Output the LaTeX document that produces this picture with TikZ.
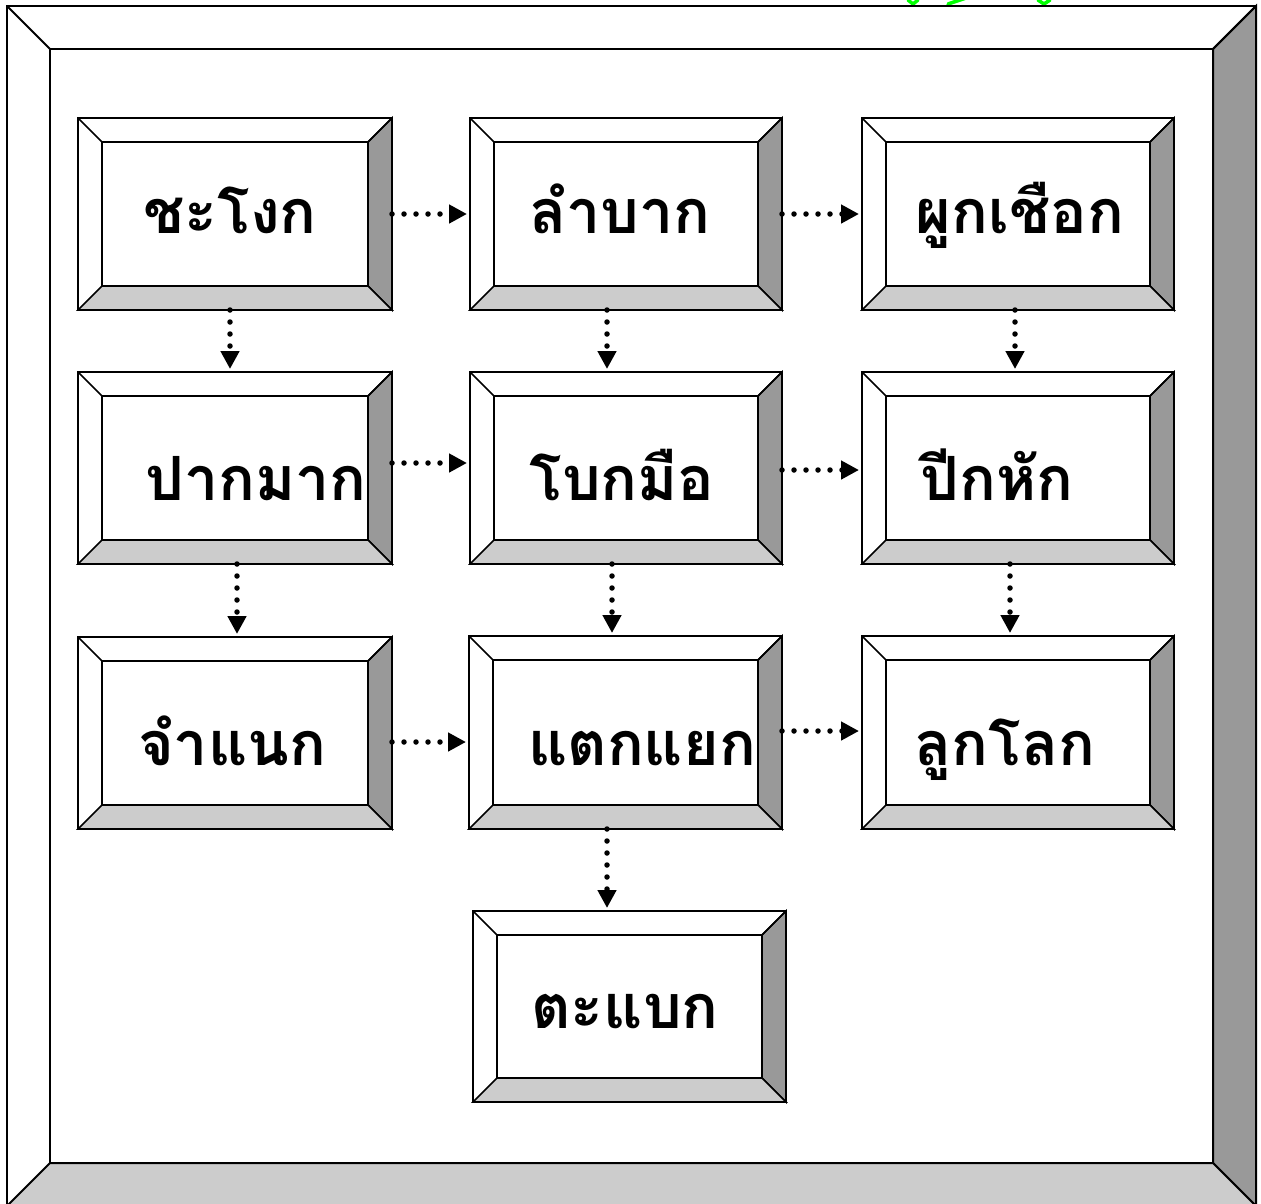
\documentclass[tikz,border=0pt]{standalone}
\usepackage{fontspec}
\newfontfamily\thaifont[Script=Thai]{Loma}
\usetikzlibrary{arrows.meta}
\definecolor{darkside}{gray}{0.6}
\definecolor{lightside}{gray}{0.8}
\definecolor{markgreen}{RGB}{0,255,0}
\tikzset{
 edge/.style={draw=black, line width=1.5pt, line join=miter},
 frameedge/.style={draw=black, line width=2pt, line join=miter},
 dotarrow/.style={line width=5.5pt, line cap=round, dash pattern=on 0pt off 12pt, shorten >=3pt, -{Triangle[length=18pt,width=18pt]}},
 lbl/.style={font=\thaifont\bfseries\fontsize{61}{72}\selectfont, anchor=base, inner sep=0pt},
 boxnode/.style={inner sep=0pt, outer sep=0pt, draw=none},
 greenmark/.style={draw=markgreen, line width=3.5pt, line cap=round, line join=round},
}
% name, x1, y1, x2, y2, bevel
\newcommand\bevbox[6]{%
 \node[boxnode, minimum width={#4pt-#2pt}, minimum height={#5pt-#3pt}] (#1) at ({(#2+#4)/2},{(#3+#5)/2}) {};
 \coordinate (#1-inw) at ([shift={(#6,#6)}]#1.north west);
 \coordinate (#1-ine) at ([shift={(-#6,#6)}]#1.north east);
 \coordinate (#1-isw) at ([shift={(#6,-#6)}]#1.south west);
 \coordinate (#1-ise) at ([shift={(-#6,-#6)}]#1.south east);
 \fill[white] (#1.north west) rectangle (#1.south east);
 \filldraw[fill=darkside, edge] (#1.north east) -- (#1.south east) -- (#1-ise) -- (#1-ine) -- cycle;
 \filldraw[fill=lightside, edge] (#1.south west) -- (#1.south east) -- (#1-ise) -- (#1-isw) -- cycle;
 \draw[edge] (#1.north west) rectangle (#1.south east);
 \draw[edge] (#1-inw) rectangle (#1-ise);
 \draw[edge] (#1.north west) -- (#1-inw);
 \draw[edge] (#1.north east) -- (#1-ine);
}
\begin{document}
\begin{tikzpicture}[x=1pt,y=-1pt]
\useasboundingbox (0,0) rectangle (1261,1203);
\fill[white] (0,0) rectangle (1261,1203);
% green fragments at top
\draw[greenmark] (908,0) -- (913,4) -- (918,0);
\draw[greenmark] (948,4) -- (966,-2);
\draw[greenmark] (1038,0) -- (1044,4) -- (1050,0);
% outer frame
\node[boxnode, minimum width=1249pt, minimum height=1200pt] (frame) at (631.5,606) {};
\coordinate (frame-inw) at (50,49);
\coordinate (frame-ine) at (1213,49);
\coordinate (frame-isw) at (50,1163);
\coordinate (frame-ise) at (1213,1163);
\filldraw[fill=darkside, frameedge] (frame.north east) -- (frame.south east) -- (frame-ise) -- (frame-ine) -- cycle;
\filldraw[fill=lightside, frameedge] (frame.south west) -- (frame.south east) -- (frame-ise) -- (frame-isw) -- cycle;
\draw[frameedge] (frame.north west) rectangle (frame.south east);
\draw[frameedge] (frame-inw) rectangle (frame-ise);
\draw[frameedge] (frame.north west) -- (frame-inw);
\draw[frameedge] (frame.north east) -- (frame-ine);
% boxes
\bevbox{b1}{78}{118}{392}{310}{24}
\bevbox{b2}{470}{118}{782}{310}{24}
\bevbox{b3}{862}{118}{1174}{310}{24}
\bevbox{b4}{78}{372}{392}{564}{24}
\bevbox{b5}{470}{372}{782}{564}{24}
\bevbox{b6}{862}{372}{1174}{564}{24}
\bevbox{b7}{78}{637}{392}{829}{24}
\bevbox{b8}{469}{636}{782}{829}{24}
\bevbox{b9}{862}{636}{1174}{829}{24}
\bevbox{b10}{473}{911}{786}{1102}{24}
% labels
\node[lbl] (t1) at (230,233) {ชะโงก};
\node[lbl] (t2) at (620,233) {ลำบาก};
\node[lbl] (t3) at (1020,233) {ผูกเชือก};
\node[lbl] (t4) at (256,500) {ปากมาก};
\node[lbl] (t5) at (622,500) {โบกมือ};
\node[lbl] (t6) at (997,500) {ปีกหัก};
\node[lbl] (t7) at (232,765) {จำแนก};
\node[lbl] (t8) at (642,765) {แตกแยก};
\node[lbl] (t9) at (1005,765) {ลูกโลก};
\node[lbl] (t10) at (625,1028) {ตะแบก};
% connectors
\draw[dotarrow] (b1.east) -- (b2.west);
\draw[dotarrow] (b2.east) -- (b3.west);
\draw[dotarrow] (b4.east |- 0,463) -- (b5.west |- 0,463);
\draw[dotarrow] (b5.east |- 0,470) -- (b6.west |- 0,470);
\draw[dotarrow] (b7.east |- 0,742) -- (b8.west |- 0,742);
\draw[dotarrow] (b8.east |- 0,731) -- (b9.west |- 0,731);
\draw[dotarrow] (b1.south -| 230,0) -- (b4.north -| 230,0);
\draw[dotarrow] (b2.south -| 607,0) -- (b5.north -| 607,0);
\draw[dotarrow] (b3.south -| 1015,0) -- (b6.north -| 1015,0);
\draw[dotarrow] (b4.south -| 237,0) -- (b7.north -| 237,0);
\draw[dotarrow] (b5.south -| 612,0) -- (b8.north -| 612,0);
\draw[dotarrow] (b6.south -| 1010,0) -- (b9.north -| 1010,0);
\draw[dotarrow] (b8.south -| 607,0) -- (b10.north -| 607,0);
\end{tikzpicture}
\end{document}
